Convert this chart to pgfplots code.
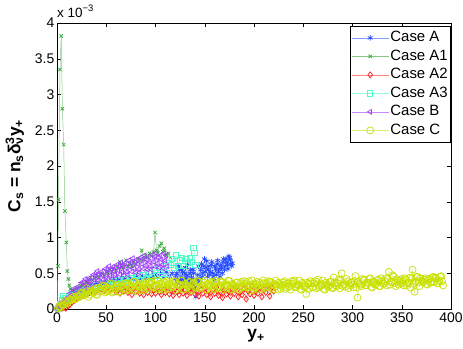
\documentclass[border=0pt]{standalone}
\usepackage{pgfplots}
\pgfplotsset{compat=1.18}
\usepackage{fontspec}
\setmainfont{Liberation Sans}
\definecolor{cA}{rgb}{0.15,0.3,1.0}
\definecolor{cA1}{rgb}{0.2,0.65,0.2}
\definecolor{cA2}{rgb}{1.0,0.1,0.1}
\definecolor{cA3}{rgb}{0.3,1.0,0.78}
\definecolor{cB}{rgb}{0.62,0.25,1.0}
\definecolor{cC}{rgb}{0.78,0.88,0.0}
\begin{document}
\begin{tikzpicture}
\begin{axis}[
  name=ax, at={(0,0)}, anchor=south west,
  scale only axis, width=394bp, height=286bp,
  xmin=0, xmax=400, ymin=0, ymax=4,
  xtick={0,50,...,400}, ytick={0,0.5,1,1.5,2,2.5,3,3.5,4},
  tick align=inside, major tick length=4bp,
  tick style={black, line width=0.5bp},
  axis line style={line width=0.6bp, black},
  /pgf/number format/assume math mode=true,
  ticklabel style={font=\fontsize{14}{16}\selectfont},
  xticklabel style={inner sep=3.5bp},
  yticklabel style={inner sep=2.5bp},
  xlabel={\textbf{y\textsubscript{+}}},
  xlabel style={at={(axis description cs:0.505,-0.094)}, anchor=center, font=\fontsize{17.5}{20}\selectfont},
  ylabel={\textbf{C\textsubscript{s} = n\textsubscript{s}δ\rlap{\textsuperscript{3}}\textsubscript{ν}y\textsubscript{+}}},
  ylabel style={at={(axis description cs:-0.107,0.5)}, anchor=center, font=\fontsize{17.5}{20}\selectfont},
  legend style={at={(axis description cs:0.9987,0.9906)}, anchor=north east, draw=black, line width=0.5bp,
    font=\fontsize{15}{17}\selectfont, row sep=0bp, inner xsep=1bp, inner ysep=2.7bp,
    nodes={inner xsep=1.5bp, inner ysep=2bp, text height=11bp, text depth=3.5bp}},
  legend cell align=left,
  legend image code/.code={\draw[mark repeat=2,mark phase=2,#1] plot coordinates {(0bp,0bp) (18.5bp,0bp) (37bp,0bp)};},
  every axis plot/.append style={line width=0.5bp},
]
% Case A
\addplot[color=cA!55!white, mark=asterisk, mark size=2.8bp, mark options={draw=cA, solid, line width=0.7bp}] coordinates {
(0,0) (3,0.03) (6,0.07) (9,0.1) (12,0.14) (15,0.17) (18,0.2) (21,0.22) (24,0.25) (27,0.27)
(30,0.3) (33,0.31) (36,0.33) (39,0.35) (42,0.34) (45,0.37) (48,0.36) (51,0.39) (54,0.37) (57,0.4)
(60,0.38) (63,0.41) (66,0.39) (69,0.42) (72,0.4) (75,0.43) (78,0.41) (81,0.45) (84,0.42) (87,0.46)
(90,0.43) (93,0.47) (96,0.44) (99,0.48) (102,0.45) (105,0.5) (108,0.44) (111,0.52) (114,0.46) (117,0.5)
(120,0.42) (121.5,0.5) (123,0.38) (124.5,0.55) (126,0.45) (127.5,0.52) (129,0.4) (130.5,0.58) (132,0.47) (133.5,0.36)
(135,0.5) (136.5,0.44) (138,0.55) (139.5,0.3) (141,0.17) (142,0.42) (143,0.48) (144.5,0.38) (146,0.55) (147.5,0.45)
(149,0.6) (150.5,0.52) (152,0.67) (153.5,0.55) (155,0.48) (156.5,0.62) (158,0.5) (159.5,0.4) (161,0.56) (162.5,0.63)
(164,0.52) (165.5,0.45) (167,0.58) (168.5,0.66) (170,0.55) (171.5,0.7) (173,0.62) (174.5,0.74) (176,0.68) (177.5,0.6) (178,0.64)
};
\addlegendentry{Case A}
\addplot[forget plot, color=cA!55!white, mark=asterisk, mark size=2.8bp, mark options={draw=cA, solid, line width=0.7bp}] coordinates {
(120.7,0.47) (122.2,0.36) (123.7,0.6) (125.2,0.41) (126.7,0.56) (128.2,0.35) (129.7,0.5) (131.2,0.43) (132.7,0.62) (134.2,0.4)
(135.7,0.55) (137.2,0.35) (138.7,0.5) (143.7,0.6) (145.2,0.42) (146.7,0.63) (148.2,0.5) (149.7,0.7) (151.2,0.58) (152.7,0.45)
(154.2,0.6) (155.7,0.52) (157.2,0.66) (158.7,0.45) (160.2,0.6) (161.7,0.48) (163.2,0.68) (164.7,0.56) (166.2,0.62) (167.7,0.5)
(169.2,0.7) (170.7,0.6) (172.2,0.66) (173.7,0.56) (175.2,0.72) (176.7,0.63)
};
% Case A1
\addplot[color=cA1!60!white, mark=x, mark size=2.4bp, mark options={draw=cA1, solid, line width=0.7bp}] coordinates {
(0.3,0) (1,0.6) (1.5,1.53) (3,3.35) (4.3,3.82) (5.5,2.8) (6.8,2.3) (8,1.37) (9.5,0.93) (10.5,0.53)
(11.5,0.42) (12.5,0.33) (13.5,0.28) (15,0.26) (16.5,0.24) (18,0.27) (19.5,0.25) (21,0.3) (22.5,0.28) (24,0.33)
(25.5,0.31) (27,0.35) (28.5,0.33) (30,0.38) (32,0.36) (34,0.44) (36,0.4) (38,0.43) (40,0.47) (42,0.44)
(44,0.48) (46,0.5) (48,0.46) (50,0.52) (52,0.5) (54,0.55) (56,0.52) (58,0.57) (60,0.55) (62,0.6)
(64,0.66) (66,0.58) (68,0.62) (70,0.68) (72,0.6) (74,0.64) (76,0.6) (78,0.66) (80,0.63) (82,0.7)
(84,0.68) (86,0.82) (88,0.7) (90,0.75) (92,0.72) (94,0.78) (96,0.74) (98,0.8) (99.5,1.07) (101,0.82)
(102.5,0.78) (104,0.88) (106,0.92) (107.5,0.8) (109,0.85) (111,0.75) (113,0.78) (115,0.72)
};
\addlegendentry{Case A1}
% Case A2
\addplot[color=cA2!55!white, mark=diamond, mark size=3bp, mark options={draw=cA2, solid, line width=0.7bp}] coordinates {
(3,0) (5,0.01) (7,0.02) (9,0.01) (11,0.04) (13,0.06) (15,0.09) (18,0.12) (21,0.15) (24,0.17)
(27,0.2) (30,0.21) (33,0.23) (36,0.25) (39,0.24) (42,0.27) (45,0.28) (48,0.26) (51,0.3) (54,0.27)
(57,0.29) (60,0.24) (62,0.3) (64,0.22) (66,0.28) (68,0.25) (70,0.31) (72,0.23) (74,0.27) (76,0.2)
(78,0.29) (80,0.24) (82,0.3) (84,0.22) (86,0.26) (88,0.2) (90,0.28) (92,0.23) (94,0.3) (96,0.21)
(98,0.26) (100,0.22) (102,0.29) (104,0.24) (106,0.2) (108,0.27) (110,0.23) (112,0.3) (114,0.21) (116,0.26)
(118,0.19) (120,0.28) (122,0.24) (124,0.2) (126,0.29) (128,0.22) (130,0.26) (132,0.19) (134,0.27) (136,0.23)
(138,0.3) (140,0.21) (142,0.25) (144,0.18) (146,0.27) (148,0.22) (150,0.29) (152,0.2) (154,0.25) (156,0.17)
(158,0.26) (160,0.22) (162,0.3) (164,0.19) (166,0.24) (168,0.16) (170,0.27) (172,0.21) (174,0.25) (176,0.18)
(178,0.28) (180,0.22) (182,0.3) (184,0.17) (186,0.24) (188,0.2) (190,0.28) (192,0.14) (194,0.25) (196,0.21)
(198,0.32) (200,0.19) (202,0.26) (204,0.22) (206,0.3) (208,0.17) (210,0.27) (212,0.23) (214,0.33) (216,0.18)
(218,0.3) (220,0.25)
};
\addlegendentry{Case A2}
% Case A3
\addplot[color=cA3!60!white, mark=square, mark size=2.6bp, mark options={draw=cA3, solid, line width=0.7bp}] coordinates {
(0.5,0) (2,0.03) (3.5,0.07) (5,0.12) (6.5,0.18) (8,0.15) (10,0.12) (12,0.14) (14,0.17) (16,0.2)
(18,0.18) (20,0.22) (22,0.2) (24,0.25) (26,0.23) (28,0.27) (30,0.26) (33,0.3) (36,0.28) (39,0.33)
(42,0.31) (45,0.35) (48,0.33) (51,0.37) (54,0.34) (57,0.39) (60,0.36) (63,0.41) (66,0.37) (69,0.42)
(72,0.38) (75,0.44) (78,0.4) (81,0.46) (84,0.41) (87,0.48) (90,0.43) (93,0.5) (96,0.45) (99,0.55)
(101,0.47) (103,0.58) (105,0.5) (107,0.46) (109,0.6) (111,0.5) (113,0.64) (115,0.62) (117,0.7) (119,0.58)
(121,0.75) (123,0.6) (125,0.68) (127,0.72) (129,0.6) (131,0.7) (133,0.64) (135,0.72) (137,0.66) (138.5,0.86)
(139.5,0.78) (140.5,0.62)
};
\addlegendentry{Case A3}
% Case B
\addplot[color=cB!60!white, mark=triangle, mark size=2.8bp, mark options={draw=cB, solid, rotate=90, line width=0.7bp}] coordinates {
(0,0) (1,0.03) (2,0.03) (3,0.06) (4,0.03) (5,0.1) (6,0.07) (7,0.11) (8,0.06) (9,0.15)
(10,0.14) (11,0.12) (12,0.1) (13,0.22) (14,0.18) (15,0.23) (16,0.16) (17,0.28) (18,0.21) (19,0.27)
(20,0.19) (21,0.31) (22,0.28) (23,0.24) (24,0.22) (25,0.37) (26,0.31) (27,0.37) (28,0.28) (29,0.42)
(30,0.33) (31,0.39) (32,0.29) (33,0.43) (34,0.39) (35,0.34) (36,0.3) (37,0.48) (38,0.41) (39,0.47)
(40,0.35) (41,0.53) (42,0.4) (43,0.48) (44,0.35) (45,0.52) (46,0.47) (47,0.41) (48,0.37) (49,0.56)
(50,0.48) (51,0.55) (52,0.42) (53,0.6) (54,0.47) (55,0.55) (56,0.42) (57,0.59) (58,0.53) (59,0.48)
(60,0.43) (61,0.62) (62,0.54) (63,0.6) (64,0.48) (65,0.65) (66,0.52) (67,0.6) (68,0.47) (69,0.64)
(70,0.58) (71,0.52) (72,0.48) (73,0.68) (74,0.59) (75,0.65) (76,0.52) (77,0.71) (78,0.57) (79,0.65)
(80,0.51) (81,0.69) (82,0.63) (83,0.56) (84,0.51) (85,0.72) (86,0.63) (87,0.7) (88,0.56) (89,0.75)
(90,0.61) (91,0.69) (92,0.55) (93,0.73) (94,0.66) (95,0.6) (96,0.55) (97,0.76) (98,0.66) (99,0.73)
(100,0.59) (101,0.78) (102,0.64) (103,0.72) (104,0.58) (105,0.75) (106,0.69) (107,0.62) (108,0.57) (109,0.78)
(110,0.68) (111,0.75) (112,0.6)
};
\addlegendentry{Case B}
% Case C
\addplot[color=cC!60!white, mark=o, mark size=3.5bp, mark options={draw=cC, solid, line width=0.7bp}] coordinates {
(1,0.01) (3,0.02) (5,0.06) (7,0.06) (9,0.1) (11,0.09) (13,0.14) (15,0.13) (17,0.17) (19,0.14)
(21,0.18) (23,0.17) (25,0.23) (27,0.19) (29,0.22) (31,0.25) (33,0.2) (35,0.25) (37,0.23) (39,0.28)
(41,0.2) (43,0.3) (45,0.26) (47,0.32) (49,0.23) (51,0.3) (53,0.25) (55,0.36) (57,0.25) (59,0.29)
(61,0.34) (63,0.24) (65,0.32) (67,0.28) (69,0.36) (71,0.26) (73,0.33) (75,0.29) (77,0.38) (79,0.27)
(81,0.32) (83,0.36) (85,0.26) (87,0.34) (89,0.3) (91,0.38) (93,0.27) (95,0.35) (97,0.31) (99,0.4)
(101,0.28) (103,0.35) (105,0.3) (107,0.37) (109,0.27) (111,0.39) (113,0.29) (115,0.35) (117,0.31) (119,0.38)
(121,0.27) (123,0.35) (125,0.33) (127,0.4) (129,0.28) (131,0.34) (133,0.31) (135,0.38) (137,0.26) (139,0.36)
(141,0.3) (143,0.39) (145,0.29) (147,0.33) (149,0.37) (151,0.27) (153,0.35) (155,0.31) (157,0.38) (159,0.28)
(161,0.4) (163,0.29) (165,0.33) (167,0.37) (169,0.27) (171,0.35) (173,0.31) (175,0.39) (177,0.28) (179,0.34)
(181,0.3) (183,0.37) (185,0.27) (187,0.38) (189,0.3) (191,0.35) (193,0.32) (195,0.39) (197,0.26) (199,0.35)
(201,0.3) (203,0.38) (205,0.28) (207,0.34) (209,0.4) (211,0.29) (213,0.36) (215,0.31) (217,0.38) (219,0.27)
(221,0.35) (223,0.32) (225,0.37) (227,0.28) (229,0.34) (231,0.39) (233,0.3) (235,0.36) (237,0.27) (239,0.35)
(241,0.4) (243,0.31) (245,0.34) (247,0.28) (249,0.37) (251,0.31) (253,0.21) (255,0.35) (257,0.39) (259,0.3)
(261,0.36) (263,0.29) (265,0.41) (267,0.32) (269,0.35) (271,0.28) (273,0.37) (275,0.31) (277,0.38) (279,0.3)
(281,0.44) (283,0.33) (285,0.36) (287,0.29) (289,0.5) (291,0.34) (293,0.31) (295,0.39) (297,0.33) (299,0.37)
(301,0.3) (303,0.46) (305,0.16) (307,0.36) (309,0.32) (311,0.4) (313,0.33) (315,0.37) (317,0.42) (319,0.31)
(321,0.38) (323,0.34) (325,0.4) (327,0.32) (329,0.43) (331,0.36) (333,0.39) (335,0.33) (337,0.52) (339,0.38)
(341,0.47) (343,0.36) (345,0.42) (347,0.34) (349,0.4) (351,0.36) (353,0.43) (355,0.33) (357,0.37) (359,0.3)
(361,0.55) (363,0.24) (365,0.45) (367,0.37) (369,0.43) (371,0.38) (373,0.41) (375,0.35) (377,0.42) (379,0.37)
(381,0.44) (383,0.38) (385,0.43) (387,0.36) (389,0.45) (391,0.39) (392,0.33)
};
\addlegendentry{Case C}
\addplot[forget plot, color=cC!60!white, mark=o, mark size=3.5bp, mark options={draw=cC, solid, line width=0.7bp}] coordinates {
(2,0.04) (4,0.03) (6,0.06) (8,0.11) (10,0.08) (12,0.12) (14,0.12) (16,0.16) (18,0.14) (20,0.18)
(22,0.17) (24,0.21) (26,0.22) (28,0.2) (30,0.29) (32,0.17) (34,0.25) (36,0.23) (38,0.28) (40,0.2)
(42,0.29) (44,0.24) (46,0.33) (48,0.32) (50,0.25) (52,0.28) (54,0.35) (56,0.23) (58,0.31) (60,0.28)
(62,0.33) (64,0.24) (66,0.33) (68,0.28) (70,0.36) (72,0.35) (74,0.27) (76,0.31) (78,0.38) (80,0.25)
(82,0.33) (84,0.3) (86,0.36) (88,0.27) (90,0.35) (92,0.3) (94,0.38) (96,0.38) (98,0.3) (100,0.33)
(102,0.4) (104,0.27) (106,0.35) (108,0.32) (110,0.37) (112,0.28) (114,0.36) (116,0.31) (118,0.39) (120,0.38)
(122,0.3) (124,0.33) (126,0.4) (128,0.27) (130,0.35) (132,0.32) (134,0.37) (136,0.28) (138,0.36) (140,0.31)
(142,0.39) (144,0.38) (146,0.3) (148,0.33) (150,0.4) (152,0.27) (154,0.35) (156,0.32) (158,0.37) (160,0.28)
(162,0.36) (164,0.31) (166,0.39) (168,0.38) (170,0.3) (172,0.33) (174,0.4) (176,0.27) (178,0.35) (180,0.32)
(182,0.37) (184,0.28) (186,0.36) (188,0.31) (190,0.39) (192,0.38) (194,0.3) (196,0.33) (198,0.4) (200,0.27)
(202,0.35) (204,0.32) (206,0.37) (208,0.28) (210,0.36) (212,0.31) (214,0.39) (216,0.38) (218,0.3) (220,0.33)
(222,0.4) (224,0.27) (226,0.35) (228,0.32) (230,0.37) (232,0.28) (234,0.36) (236,0.31) (238,0.39) (240,0.38)
(242,0.3) (244,0.33) (246,0.4) (248,0.27) (250,0.35) (252,0.32) (254,0.37) (256,0.28) (258,0.36) (260,0.31)
(262,0.39) (264,0.38) (266,0.3) (268,0.33) (270,0.4) (272,0.27) (274,0.35) (276,0.32) (278,0.38) (280,0.29)
(282,0.37) (284,0.32) (286,0.41) (288,0.4) (290,0.32) (292,0.35) (294,0.42) (296,0.29) (298,0.37) (300,0.34)
(302,0.39) (304,0.3) (306,0.38) (308,0.34) (310,0.42) (312,0.41) (314,0.33) (316,0.36) (318,0.43) (320,0.3)
(322,0.38) (324,0.35) (326,0.41) (328,0.32) (330,0.4) (332,0.35) (334,0.43) (336,0.42) (338,0.34) (340,0.37)
(342,0.45) (344,0.32) (346,0.4) (348,0.37) (350,0.42) (352,0.33) (354,0.41) (356,0.36) (358,0.44) (360,0.43)
(362,0.35) (364,0.38) (366,0.45) (368,0.32) (370,0.4) (372,0.38) (374,0.43) (376,0.34) (378,0.42) (380,0.37)
(382,0.45) (384,0.44) (386,0.36) (388,0.39) (390,0.46)
};
\end{axis}
\node[anchor=base west, inner sep=0pt, font=\fontsize{13.5}{15}\selectfont] at ([yshift=6bp]ax.north west) {x 10\textsuperscript{−3}};
\pgfresetboundingbox
\path (-57bp,-40bp) rectangle (406bp,309bp);
\end{tikzpicture}
\end{document}
